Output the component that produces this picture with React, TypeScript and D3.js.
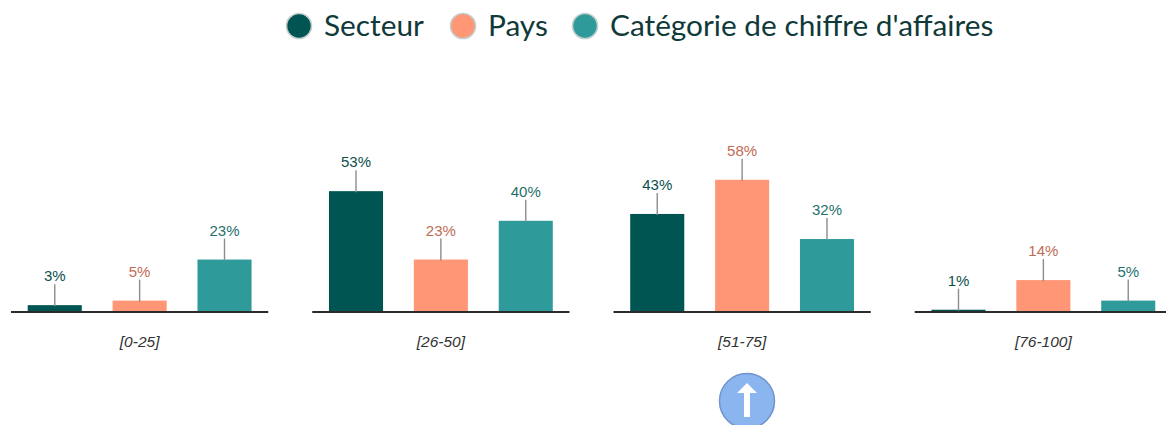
import React from "react";
import * as d3 from "d3";

const categories = ["[0-25]", "[26-50]", "[51-75]", "[76-100]"];
const seriesNames = ["Secteur", "Pays", "Catégorie de chiffre d'affaires"];
const secteurValues = [3, 53, 43, 1];
const paysValues = [5, 23, 58, 14];
const chiffreValues = [23, 40, 32, 5];

const barColors = ["#005452", "#ff9676", "#2f9a9a"];
const labelColors = ["#0b4f4d", "#bf6a55", "#1f6f6c"];

export default function App() {
    const ref = React.useRef<SVGSVGElement>(null);

    React.useEffect(() => {
        const width = 1166;
        const height = 425;
        const baseline = 312;

        const svg = d3.select(ref.current);
        svg.selectAll("*").remove();

        const allSeries = [secteurValues, paysValues, chiffreValues];

        // one panel per revenue bracket
        const panelX = d3
            .scaleBand<string>()
            .domain(categories)
            .range([11, 1172])
            .paddingInner(0.146);

        const barX = d3
            .scaleBand<string>()
            .domain(seriesNames)
            .range([0, panelX.bandwidth()])
            .paddingInner(0.363)
            .paddingOuter(0.197);

        const y = d3.scaleLinear().domain([0, 100]).range([baseline, baseline - 228]);

        const panels = svg
            .selectAll("g.panel")
            .data(categories)
            .enter()
            .append("g")
            .attr("class", "panel")
            .attr("transform", (d) => `translate(${panelX(d)},0)`);

        panels.each(function (cat, i) {
            const g = d3.select(this);
            const rows = seriesNames.map((name, s) => ({
                name,
                s,
                value: allSeries[s][i],
            }));

            g.selectAll("rect")
                .data(rows)
                .enter()
                .append("rect")
                .attr("x", (d) => barX(d.name) as number)
                .attr("y", (d) => y(d.value))
                .attr("width", barX.bandwidth())
                .attr("height", (d) => baseline - y(d.value))
                .attr("fill", (d) => barColors[d.s]);

            // leader from value label down to top of bar
            g.selectAll("line.leader")
                .data(rows)
                .enter()
                .append("line")
                .attr("class", "leader")
                .attr("x1", (d) => (barX(d.name) as number) + barX.bandwidth() / 2)
                .attr("x2", (d) => (barX(d.name) as number) + barX.bandwidth() / 2)
                .attr("y1", (d) => y(d.value) - 21)
                .attr("y2", (d) => y(d.value) + 1)
                .attr("stroke", "#8c8c8c")
                .attr("stroke-width", 1.4);

            g.selectAll("text.value")
                .data(rows)
                .enter()
                .append("text")
                .attr("class", "value")
                .attr("x", (d) => (barX(d.name) as number) + barX.bandwidth() / 2)
                .attr("y", (d) => y(d.value) - 24)
                .attr("text-anchor", "middle")
                .attr("font-family", "'Liberation Sans', Arial, sans-serif")
                .attr("font-size", 15)
                .attr("fill", (d) => labelColors[d.s])
                .text((d) => d.value + "%");

            g.append("line")
                .attr("x1", 0)
                .attr("x2", panelX.bandwidth())
                .attr("y1", baseline)
                .attr("y2", baseline)
                .attr("stroke", "#2b2b2b")
                .attr("stroke-width", 2);

            g.append("text")
                .attr("x", panelX.bandwidth() / 2)
                .attr("y", 347)
                .attr("text-anchor", "middle")
                .attr("font-family", "'Liberation Sans', Arial, sans-serif")
                .attr("font-style", "italic")
                .attr("font-size", 15.5)
                .attr("fill", "#333333")
                .text(cat);
        });

        // legend
        const legendX = [299, 463, 585];
        const legend = svg
            .selectAll("g.legend")
            .data(seriesNames)
            .enter()
            .append("g")
            .attr("class", "legend")
            .attr("transform", (d, i) => `translate(${legendX[i]},26)`);

        legend
            .append("circle")
            .attr("r", 12.5)
            .attr("fill", (d, i) => barColors[i])
            .attr("stroke", "#c4cfcd")
            .attr("stroke-width", 1.6);

        legend
            .append("text")
            .attr("x", 25)
            .attr("y", 10)
            .attr("font-family", "Lato, 'Noto Sans', sans-serif")
            .attr("font-size", 29.8)
            .attr("fill", "#0f3a39")
            .text((d) => d);

        // scroll-to-top button
        const button = svg.append("g").attr("transform", "translate(747,401)");
        button
            .append("circle")
            .attr("r", 27.5)
            .attr("fill", "#8ab5ef")
            .attr("stroke", "#6f93cc")
            .attr("stroke-width", 1.5);
        button
            .append("path")
            .attr("d", "M0,-18 L10,-8 L3,-8 L3,16 L-3,16 L-3,-8 L-10,-8 Z")
            .attr("fill", "white");

        svg.attr("width", width).attr("height", height);
    }, []);

    return (
        <svg
            ref={ref}
            style={{ position: "absolute", left: 0, top: 0, display: "block", background: "white" }}
        />
    );
}
